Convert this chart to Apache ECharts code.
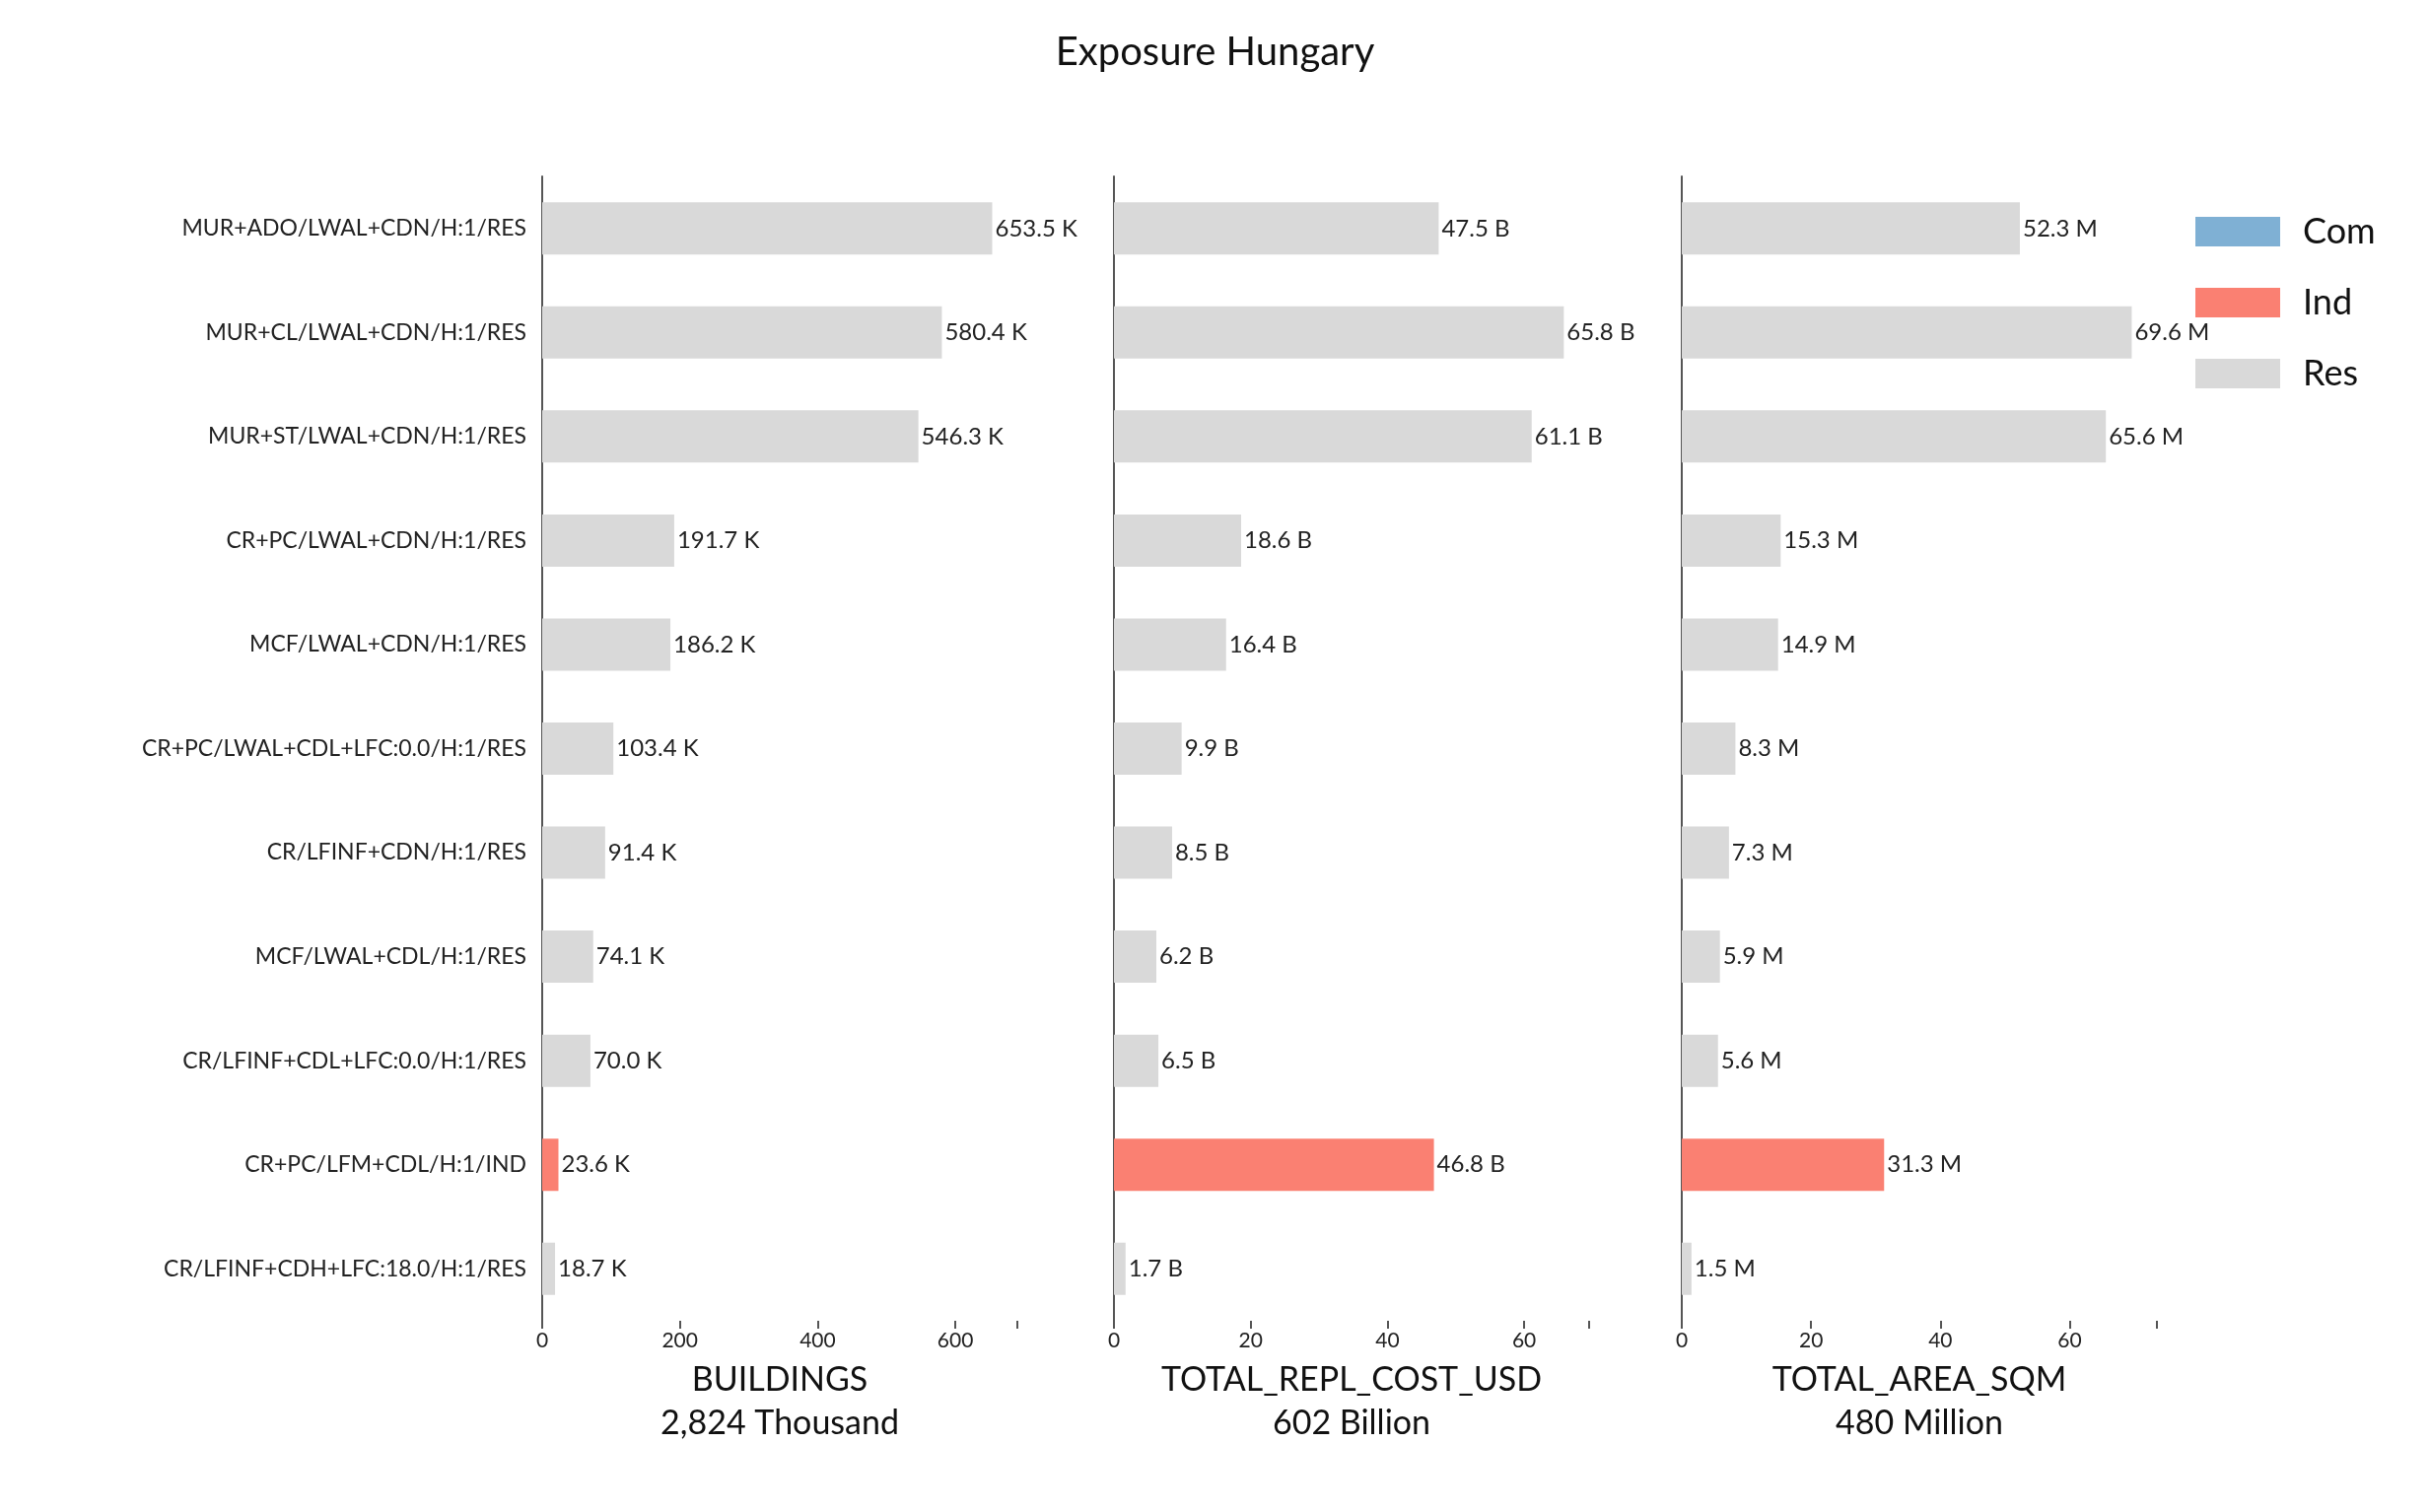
<!DOCTYPE html>
<html><head><meta charset="utf-8">
<script src="https://cdn.jsdelivr.net/npm/echarts@6/dist/echarts.min.js"></script>
<style>html,body{margin:0;background:#fff}#c{width:2465px;height:1534px}</style>
</head><body><div id="c"></div>
<script>
var categories = ['MUR+ADO/LWAL+CDN/H:1/RES','MUR+CL/LWAL+CDN/H:1/RES','MUR+ST/LWAL+CDN/H:1/RES','CR+PC/LWAL+CDN/H:1/RES','MCF/LWAL+CDN/H:1/RES','CR+PC/LWAL+CDL+LFC:0.0/H:1/RES','CR/LFINF+CDN/H:1/RES','MCF/LWAL+CDL/H:1/RES','CR/LFINF+CDL+LFC:0.0/H:1/RES','CR+PC/LFM+CDL/H:1/IND','CR/LFINF+CDH+LFC:18.0/H:1/RES'];
var occupancy = ['Res','Res','Res','Res','Res','Res','Res','Res','Res','Ind','Res'];
var buildings = [653.5,580.4,546.3,191.7,186.2,103.4,91.4,74.1,70.0,23.6,18.7];
var replCost = [47.5,65.8,61.1,18.6,16.4,9.9,8.5,6.2,6.5,46.8,1.7];
var area = [52.3,69.6,65.6,15.3,14.9,8.3,7.3,5.9,5.6,31.3,1.5];
var panelNames = ['BUILDINGS\n2,824 Thousand','TOTAL_REPL_COST_USD\n602 Billion','TOTAL_AREA_SQM\n480 Million'];
var units = [' K',' B',' M'];
var maxes = [690,69.5,73.5];
var intervals = [200,20,20];
var colors = {Com:'#7fb0d4',Ind:'#fa8072',Res:'#d9d9d9'};
var panels = [buildings,replCost,area];
var lefts = [550,1130,1706], width = 482;
var font = 'Lato, "Noto Sans", sans-serif';

var grid=[],xAxis=[],yAxis=[],series=[];
panels.forEach(function(vals,p){
  grid.push({left:lefts[p],width:width,top:179,bottom:1534-1340});
  xAxis.push({gridIndex:p,type:'value',min:0,max:maxes[p],interval:intervals[p],
    name:panelNames[p],nameLocation:'middle',nameGap:38,
    nameTextStyle:{fontSize:34,color:'#111',fontFamily:font,lineHeight:44,verticalAlign:'top'},
    splitLine:{show:false},
    axisLine:{lineStyle:{color:'#555',width:2}},axisTick:{show:true,length:8,lineStyle:{color:'#555',width:2}},
    axisLabel:{fontSize:21,color:'#222',fontFamily:font,margin:10,
      formatter:function(v){return (v%intervals[p]===0)?v:'';}}});
  yAxis.push({gridIndex:p,type:'category',data:categories,inverse:true,
    axisLine:{lineStyle:{color:'#555',width:2}},axisTick:{alignWithLabel:true,length:8,lineStyle:{color:'#555',width:2}},
    axisLabel:{show:p===0,fontSize:23,color:'#222',fontFamily:font,margin:16}});
  ['Com','Ind','Res'].forEach(function(k){
    series.push({name:k,type:'bar',stack:'s'+p,xAxisIndex:p,yAxisIndex:p,barWidth:53,
      itemStyle:{color:colors[k]},
      label:{show:true,position:'right',distance:3,fontSize:24,color:'#222',fontFamily:font,
        formatter:function(d){return d.value.toFixed(1)+units[p];}},
      data:vals.map(function(v,i){return occupancy[i]===k?v:'-';})});
  });
});

var chart = echarts.init(document.getElementById('c'));
chart.setOption({
  animation:false,
  title:{text:'Exposure Hungary',left:'center',top:28,textStyle:{fontSize:40,fontWeight:'normal',color:'#111',fontFamily:font}},
  legend:{data:['Com','Ind','Res'],orient:'vertical',left:2222,top:212,itemWidth:86,itemHeight:30,itemGap:36,
    icon:'rect',textStyle:{fontSize:36,color:'#111',fontFamily:font,padding:[0,0,0,18]}},
  grid:grid,xAxis:xAxis,yAxis:yAxis,series:series
});
</script></body></html>
